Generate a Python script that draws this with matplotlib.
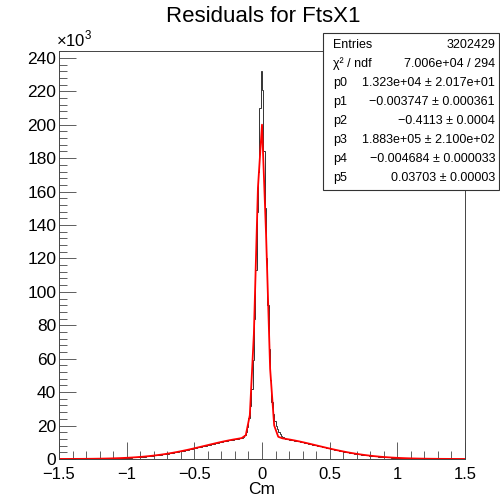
import numpy as np
import matplotlib
matplotlib.use("Agg")
import matplotlib.pyplot as plt
from matplotlib.ticker import MultipleLocator, FuncFormatter

plt.rcParams['font.family'] = ['Liberation Sans', 'DejaVu Sans']
plt.rcParams['mathtext.fontset'] = 'custom'
plt.rcParams['mathtext.rm'] = 'Liberation Sans'

# histogram: 300 bins of 0.01 from -1.5 to 1.5 (counts per bin)
x_min, x_max = -1.5, 1.5
counts = [
    18, 20, 22, 24, 26, 28, 31, 33, 36, 40,
    43, 47, 51, 55, 60, 65, 70, 76, 83, 90,
    96, 104, 112, 120, 129, 139, 150, 161, 173, 187,
    201, 215, 230, 246, 263, 282, 301, 322, 345, 369,
    392, 417, 444, 472, 502, 534, 569, 605, 644, 686,
    725, 768, 812, 860, 913, 968, 1024, 1083, 1145, 1210,
    1270, 1337, 1406, 1478, 1556, 1636, 1717, 1802, 1893, 1985,
    2085, 2182, 2282, 2387, 2495, 2607, 2722, 2842, 2966, 3096,
    3228, 3356, 3487, 3622, 3761, 3905, 4053, 4205, 4361, 4522,
    4713, 4876, 5043, 5213, 5394, 5570, 5750, 5933, 6120, 6309,
    6500, 6690, 6880, 7070, 7260, 7460, 7650, 7850, 8040, 8230,
    8420, 8620, 8810, 9010, 9200, 9390, 9580, 9770, 9950, 10130,
    10300, 10470, 10640, 10810, 10980, 11140, 11300, 11450, 11600, 11740,
    11900, 12030, 12170, 12320, 12520, 12850, 13400, 14400, 16200, 19300,
    24500, 31500, 42000, 59000, 84000, 113000, 148000, 172000, 210000, 232000,
    221000, 184000, 150000, 120000, 92000, 66000, 47000, 34000, 27000, 23000,
    20000, 18000, 16300, 15000, 14000, 13200, 12600, 12200, 11950, 11750,
    11620, 11470, 11320, 11170, 11010, 10850, 10680, 10510, 10330, 10160,
    9980, 9800, 9610, 9420, 9230, 9040, 8850, 8650, 8460, 8260,
    8070, 7870, 7680, 7480, 7290, 7100, 6900, 6710, 6520, 6340,
    6150, 5970, 5790, 5610, 5430, 5260, 5090, 4920, 4750, 4580,
    4420, 4270, 4110, 3960, 3820, 3670, 3530, 3390, 3250, 3120,
    2990, 2870, 2740, 2630, 2510, 2400, 2290, 2190, 2090, 2000,
    1910, 1820, 1730, 1650, 1570, 1490, 1420, 1350, 1280, 1220,
    1160, 1100, 1040, 985, 930, 880, 830, 785, 740, 695,
    655, 617, 580, 546, 513, 482, 452, 424, 398, 373,
    349, 327, 306, 286, 267, 249, 233, 217, 202, 189,
    176, 164, 152, 141, 131, 122, 113, 104, 97, 90,
    83, 77, 71, 65, 60, 56, 51, 47, 43, 40,
    37, 34, 31, 28, 26, 24, 22, 20, 18, 17,
]

# fit parameters (gaus + gaus) as printed in the stats box
fit_params = [1.323e4, -0.003747, -0.4113, 1.883e5, -0.004684, 0.03703]
stats_labels = ["Entries", "χ² / ndf", "p0", "p1", "p2", "p3", "p4", "p5"]
stats_values = ["3202429", "7.006e+04 / 294",
                "1.323e+04 ± 2.017e+01", "−0.003747 ± 0.000361",
                "−0.4113 ± 0.0004", "1.883e+05 ± 2.100e+02",
                "−0.004684 ± 0.000033", "0.03703 ± 0.00003"]


def double_gaus(x, p):
    g1 = p[0] * np.exp(-0.5 * ((x - p[1]) / p[2]) ** 2)
    g2 = p[3] * np.exp(-0.5 * ((x - p[4]) / p[5]) ** 2)
    return g1 + g2


fig = plt.figure(figsize=(5.0, 4.97), dpi=100)
ax = fig.add_axes([0.118, 0.0765, 0.812, 0.8205])

edges = np.linspace(x_min, x_max, len(counts) + 1)
ax.stairs(counts, edges, color='#333333', lw=0.7)

# ROOT draws the TF1 with 100 segments
xf = np.linspace(x_min, x_max, 101)
ax.plot(xf, double_gaus(xf, fit_params), color='red', lw=1.3)

ax.set_xlim(x_min, x_max)
ax.set_ylim(0, 244000)

ax.xaxis.set_major_locator(MultipleLocator(0.5))
ax.xaxis.set_minor_locator(MultipleLocator(0.1))
ax.yaxis.set_major_locator(MultipleLocator(20000))
ax.yaxis.set_minor_locator(MultipleLocator(4000))
ax.yaxis.set_major_formatter(FuncFormatter(lambda v, pos: "%d" % round(v / 1000)))
ax.xaxis.set_major_formatter(FuncFormatter(
    lambda v, pos: ("%g" % v).replace("-", "\u2212")))

ax.tick_params(which='both', direction='in', top=False, right=False,
               labelsize=12.5, color='#444444', width=0.6)
ax.tick_params(axis='x', which='major', length=12, pad=6, labelsize=12)
ax.tick_params(axis='y', which='major', length=12, pad=2)
ax.tick_params(which='minor', length=6)
for s in ax.spines.values():
    s.set_linewidth(0.7)
    s.set_color('#444444')

fig.text(262 / 500, 1 - 489 / 497, "Cm", ha='center', va='center', fontsize=12.5)
fig.text(0.526, 0.966, "Residuals for FtsX1", ha='center', va='center', fontsize=16)
fig.text(0.112, 0.9, r"$\times$10$^{3}$", ha='left', va='bottom', fontsize=12)

# stats box
bx0, bx1 = 323 / 500, 499 / 500
by1, by0 = 1 - 33 / 497, 1 - 190 / 497
fig.patches.append(plt.Rectangle((bx0, by0), bx1 - bx0, by1 - by0,
                                 transform=fig.transFigure, fill=True,
                                 facecolor='white', edgecolor='#333333', lw=0.8,
                                 zorder=5))
for i, (lab, val) in enumerate(zip(stats_labels, stats_values)):
    yy = 1 - (45 + 19 * i) / 497
    fig.text(bx0 + 0.02, yy, lab, ha='left', va='center', fontsize=9, zorder=6)
    fig.text(bx1 - 0.008, yy, val, ha='right', va='center', fontsize=9, zorder=6)

fig.savefig("out.png", dpi=100)
